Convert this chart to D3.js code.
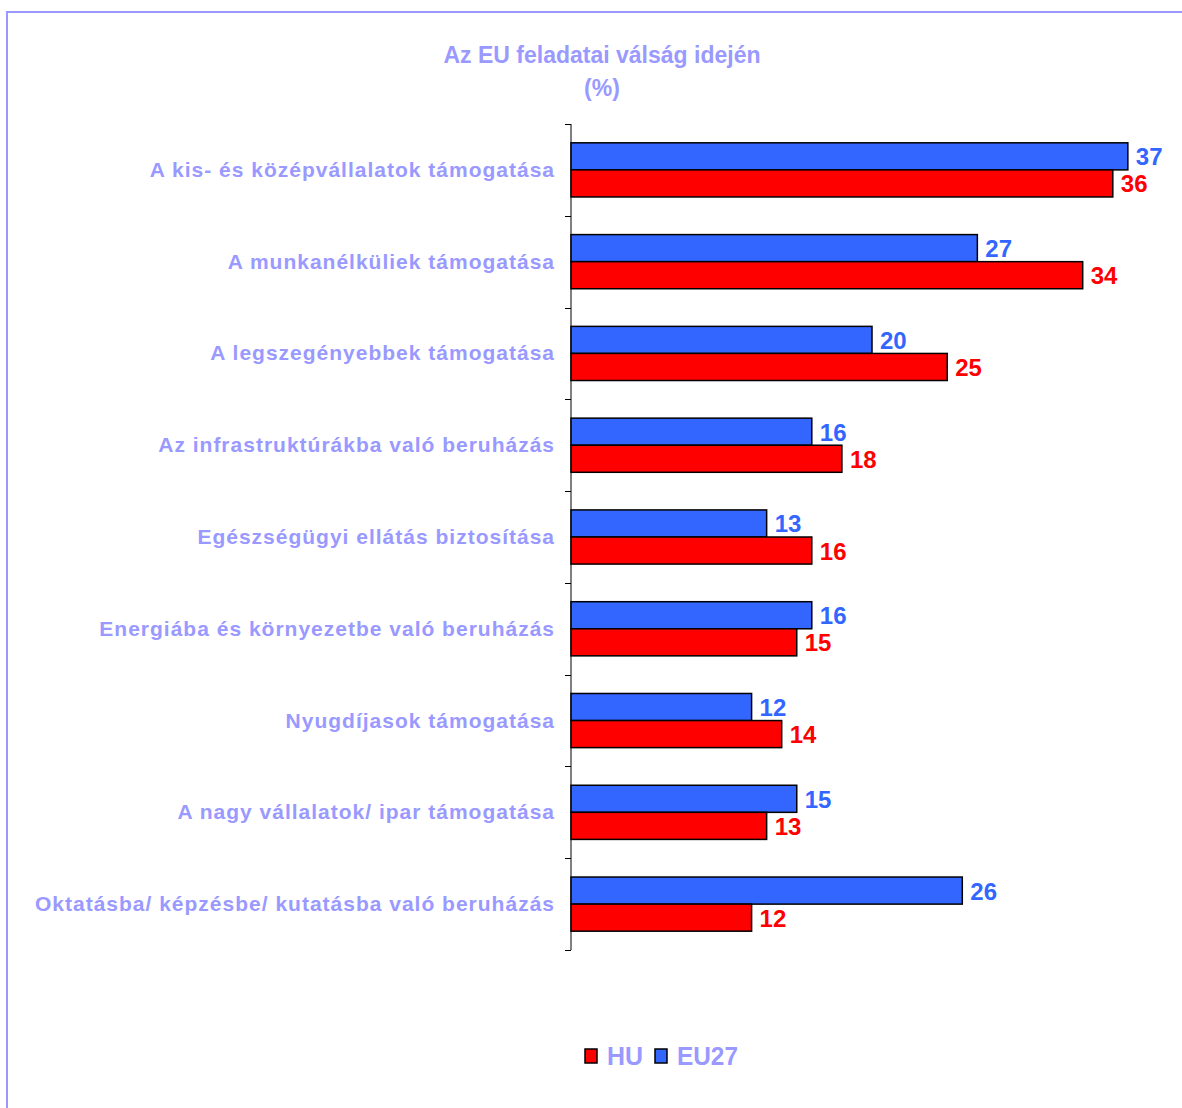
<!DOCTYPE html>
<html>
<head>
<meta charset="utf-8">
<script src="https://cdn.jsdelivr.net/npm/d3@7"></script>
<style>
  body { margin: 0; background: #fff; }
  svg { display: block; font-family: "Liberation Sans", Arial, sans-serif; }
</style>
</head>
<body>
<svg id="chart" width="1182" height="1108"></svg>
<script>
// data
const categories = [
  'A kis- és középvállalatok támogatása',
  'A munkanélküliek támogatása',
  'A legszegényebbek támogatása',
  'Az infrastruktúrákba való beruházás',
  'Egészségügyi ellátás biztosítása',
  'Energiába és környezetbe való beruházás',
  'Nyugdíjasok támogatása',
  'A nagy vállalatok/ ipar támogatása',
  'Oktatásba/ képzésbe/ kutatásba való beruházás'
]
const eu27 = [37, 27, 20, 16, 13, 16, 12, 15, 26]
const hu = [36, 34, 25, 18, 16, 15, 14, 13, 12]
const seriesNames = ['EU27', 'HU']
const legendNames = ['HU', 'EU27']

const colors = {HU: '#ff0000', EU27: '#3366ff'}
const textColor = '#9999ff'

let svg = d3.select('#chart')

// frame
svg.append('path')
  .attr('d', 'M7,1108 V12 H1182')
  .attr('fill', 'none')
  .attr('stroke', textColor)
  .attr('stroke-width', 2)

// title
svg.append('text')
  .attr('x', 602).attr('y', 63)
  .attr('text-anchor', 'middle')
  .attr('font-size', '23px').attr('font-weight', 'bold')
  .attr('fill', textColor)
  .text('Az EU feladatai válság idején')
svg.append('text')
  .attr('x', 602).attr('y', 96)
  .attr('text-anchor', 'middle')
  .attr('font-size', '23px').attr('font-weight', 'bold')
  .attr('fill', textColor)
  .text('(%)')

// scales
let x = d3.scaleLinear().domain([0, 40]).range([571, 1173])
let y = d3.scaleBand().domain(categories).range([124, 950])
  .paddingInner(0.41).paddingOuter(0.205)
let ySub = d3.scaleBand().domain(seriesNames).range([0, y.bandwidth()])

// axis line and ticks at category boundaries
svg.append('line')
  .attr('x1', x(0)).attr('x2', x(0))
  .attr('y1', 124).attr('y2', 950)
  .attr('stroke', '#000').attr('stroke-width', 1)
for (let i = 0; i <= categories.length; i++) {
  let ty = Math.round(124 + i * y.step()) + 0.5
  svg.append('line')
    .attr('x1', x(0) - 6).attr('x2', x(0))
    .attr('y1', ty).attr('y2', ty)
    .attr('stroke', '#000').attr('stroke-width', 1)
}

// category labels
svg.append('g').selectAll('text')
  .data(categories)
  .join('text')
  .attr('x', 555)
  .attr('y', d => y(d) + y.bandwidth() / 2 + 7)
  .attr('text-anchor', 'end')
  .attr('font-size', '21px').attr('font-weight', 'bold')
  .attr('letter-spacing', '1px')
  .attr('fill', textColor)
  .text(d => d)

// bars
let rows = categories.map((c, i) => ({cat: c, EU27: eu27[i], HU: hu[i]}))

for (let s of seriesNames) {
  let g = svg.append('g')
  g.selectAll('rect')
    .data(rows)
    .join('rect')
    .attr('x', x(0))
    .attr('y', d => y(d.cat) + ySub(s))
    .attr('width', d => x(d[s]) - x(0))
    .attr('height', ySub.bandwidth())
    .attr('fill', colors[s])
    .attr('stroke', '#000')
    .attr('stroke-width', 1.5)

  g.selectAll('text')
    .data(rows)
    .join('text')
    .attr('x', d => x(d[s]) + 8)
    .attr('y', d => y(d.cat) + ySub(s) + ySub.bandwidth() / 2 + 9)
    .attr('font-size', '24px').attr('font-weight', 'bold')
    .attr('fill', colors[s])
    .text(d => d[s])
}

// legend
let legend = svg.append('g').attr('transform', 'translate(585, 1055)')
let lx = 0
legendNames.forEach(n => {
  let item = legend.append('g').attr('transform', `translate(${lx}, 0)`)
  item.append('rect')
    .attr('x', 0).attr('y', -6)
    .attr('width', 12).attr('height', 14)
    .attr('fill', colors[n])
    .attr('stroke', '#000').attr('stroke-width', 1.5)
  item.append('text')
    .attr('x', 22).attr('y', 10)
    .attr('font-size', '26px').attr('font-weight', 'bold')
    .attr('fill', textColor)
    .attr('textLength', n === 'HU' ? 36 : 61)
    .attr('lengthAdjust', 'spacingAndGlyphs')
    .text(n)
  lx += 70
})
</script>
</body>
</html>
